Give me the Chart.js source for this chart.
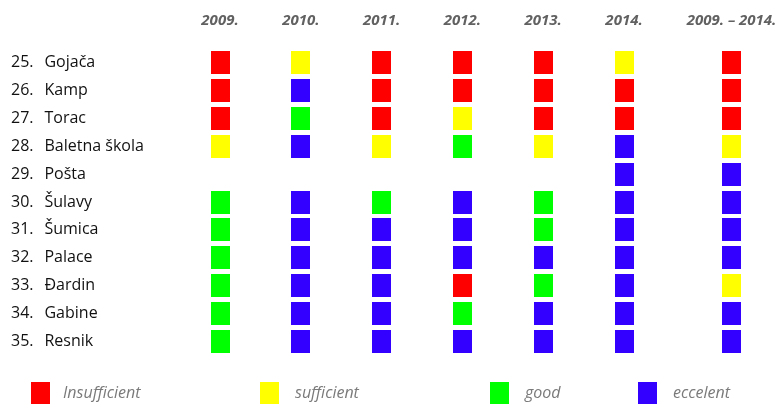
<!DOCTYPE html>
<html>
<head>
<meta charset="utf-8">
<script src="https://cdn.jsdelivr.net/npm/chart.js@4/dist/chart.umd.min.js"></script>
<style>
  body { margin: 0; background: #fff; }
</style>
</head>
<body>
<canvas id="myChart" width="782" height="404"></canvas>
<script>
const rowNums = ['25.', '26.', '27.', '28.', '29.', '30.', '31.', '32.', '33.', '34.', '35.'];
const rowNames = ['Gojača', 'Kamp', 'Torac', 'Baletna škola', 'Pošta', 'Šulavy', 'Šumica', 'Palace', 'Đardin', 'Gabine', 'Resnik'];
const colLabels = ['2009.', '2010.', '2011.', '2012.', '2013.', '2014.', '2009. – 2014.'];
const colPos = [0, 1, 2, 3, 4, 5, 6.33];
const grades = ['Insufficient', 'sufficient', 'good', 'eccelent'];
const gradeColors = ['#ff0000', '#ffff00', '#00ff00', '#3300ff'];

// grade index per row (null = not rated)
const g2009 = [0, 0, 0, 1, null, 2, 2, 2, 2, 2, 2];
const g2010 = [1, 3, 2, 3, null, 3, 3, 3, 3, 3, 3];
const g2011 = [0, 0, 0, 1, null, 2, 3, 3, 3, 3, 3];
const g2012 = [0, 0, 1, 2, null, 3, 3, 3, 0, 2, 3];
const g2013 = [0, 0, 0, 1, null, 2, 2, 3, 2, 3, 3];
const g2014 = [1, 0, 0, 3, 3, 3, 3, 3, 3, 3, 3];
const gAll = [0, 0, 0, 1, 3, 3, 3, 3, 1, 3, 3];
const columns = [g2009, g2010, g2011, g2012, g2013, g2014, gAll];

const rowLabels = rowNums.map((n, i) => n + '  \u2009' + rowNames[i]);

function square(color) {
    const c = document.createElement('canvas');
    c.width = 19;
    c.height = 23;
    const cx = c.getContext('2d');
    cx.fillStyle = color;
    cx.fillRect(0, 0, 19, 23);
    return c;
}

const datasets = grades.map((g, k) => {
    const pts = [];
    columns.forEach((col, j) => {
        col.forEach((v, i) => {
            if (v === k) pts.push({ x: colPos[j], y: rowLabels[i] });
        });
    });
    return {
        label: g,
        data: pts,
        pointStyle: square(gradeColors[k]),
        pointRadius: 1,
        pointHoverRadius: 1,
        pointBorderWidth: 0,
        clip: false,
        backgroundColor: gradeColors[k]
    };
});

const legendBoxes = [31, 260, 490, 638];

const bottomLegend = {
    id: 'bottomLegend',
    afterDraw(chart) {
        const c = chart.ctx;
        c.save();
        grades.forEach((g, k) => {
            const x = legendBoxes[k];
            c.fillStyle = gradeColors[k];
            c.fillRect(x, 382, 19, 22);
            c.fillStyle = '#7a7a7a';
            c.font = 'italic 16px "Open Sans"';
            c.textBaseline = 'middle';
            c.fillText(g, x + (k === 0 ? 32 : 35), 393);
        });
        c.restore();
    }
};

const ctx = document.getElementById('myChart').getContext('2d');
const myChart = new Chart(ctx, {
    type: 'scatter',
    data: { datasets: datasets },
    options: {
        responsive: false,
        animation: false,
        events: [],
        layout: { autoPadding: false, padding: { left: 11, right: 0, top: 1, bottom: 49 } },
        plugins: {
            legend: { display: false },
            tooltip: { enabled: false }
        },
        scales: {
            x: {
                type: 'linear',
                position: 'top',
                min: -0.619,
                max: 6.955,
                grid: { display: false, drawTicks: false },
                border: { display: false },
                afterBuildTicks: scale => {
                    scale.ticks = colPos.map(v => ({ value: v }));
                },
                afterFit: scale => {
                    scale.height = 48;
                    scale.paddingLeft = 0;
                    scale.paddingRight = 0;
                },
                ticks: {
                    autoSkip: false,
                    maxRotation: 0,
                    padding: 19,
                    color: '#616161',
                    font: { family: 'Open Sans', size: 15, style: 'italic', weight: 'bold' },
                    callback: (value, index) => colLabels[index]
                }
            },
            y: {
                type: 'category',
                labels: rowLabels,
                offset: true,
                grid: { display: false, drawTicks: false },
                border: { display: false },
                afterFit: scale => {
                    scale.width = 159;
                    scale.paddingLeft = 0;
                    scale.paddingRight = 0;
                },
                ticks: {
                    crossAlign: 'far',
                    autoSkip: false,
                    color: '#111111',
                    font: { family: 'Open Sans', size: 16, weight: '500' }
                }
            }
        }
    },
    plugins: [bottomLegend]
});
</script>
</body>
</html>
